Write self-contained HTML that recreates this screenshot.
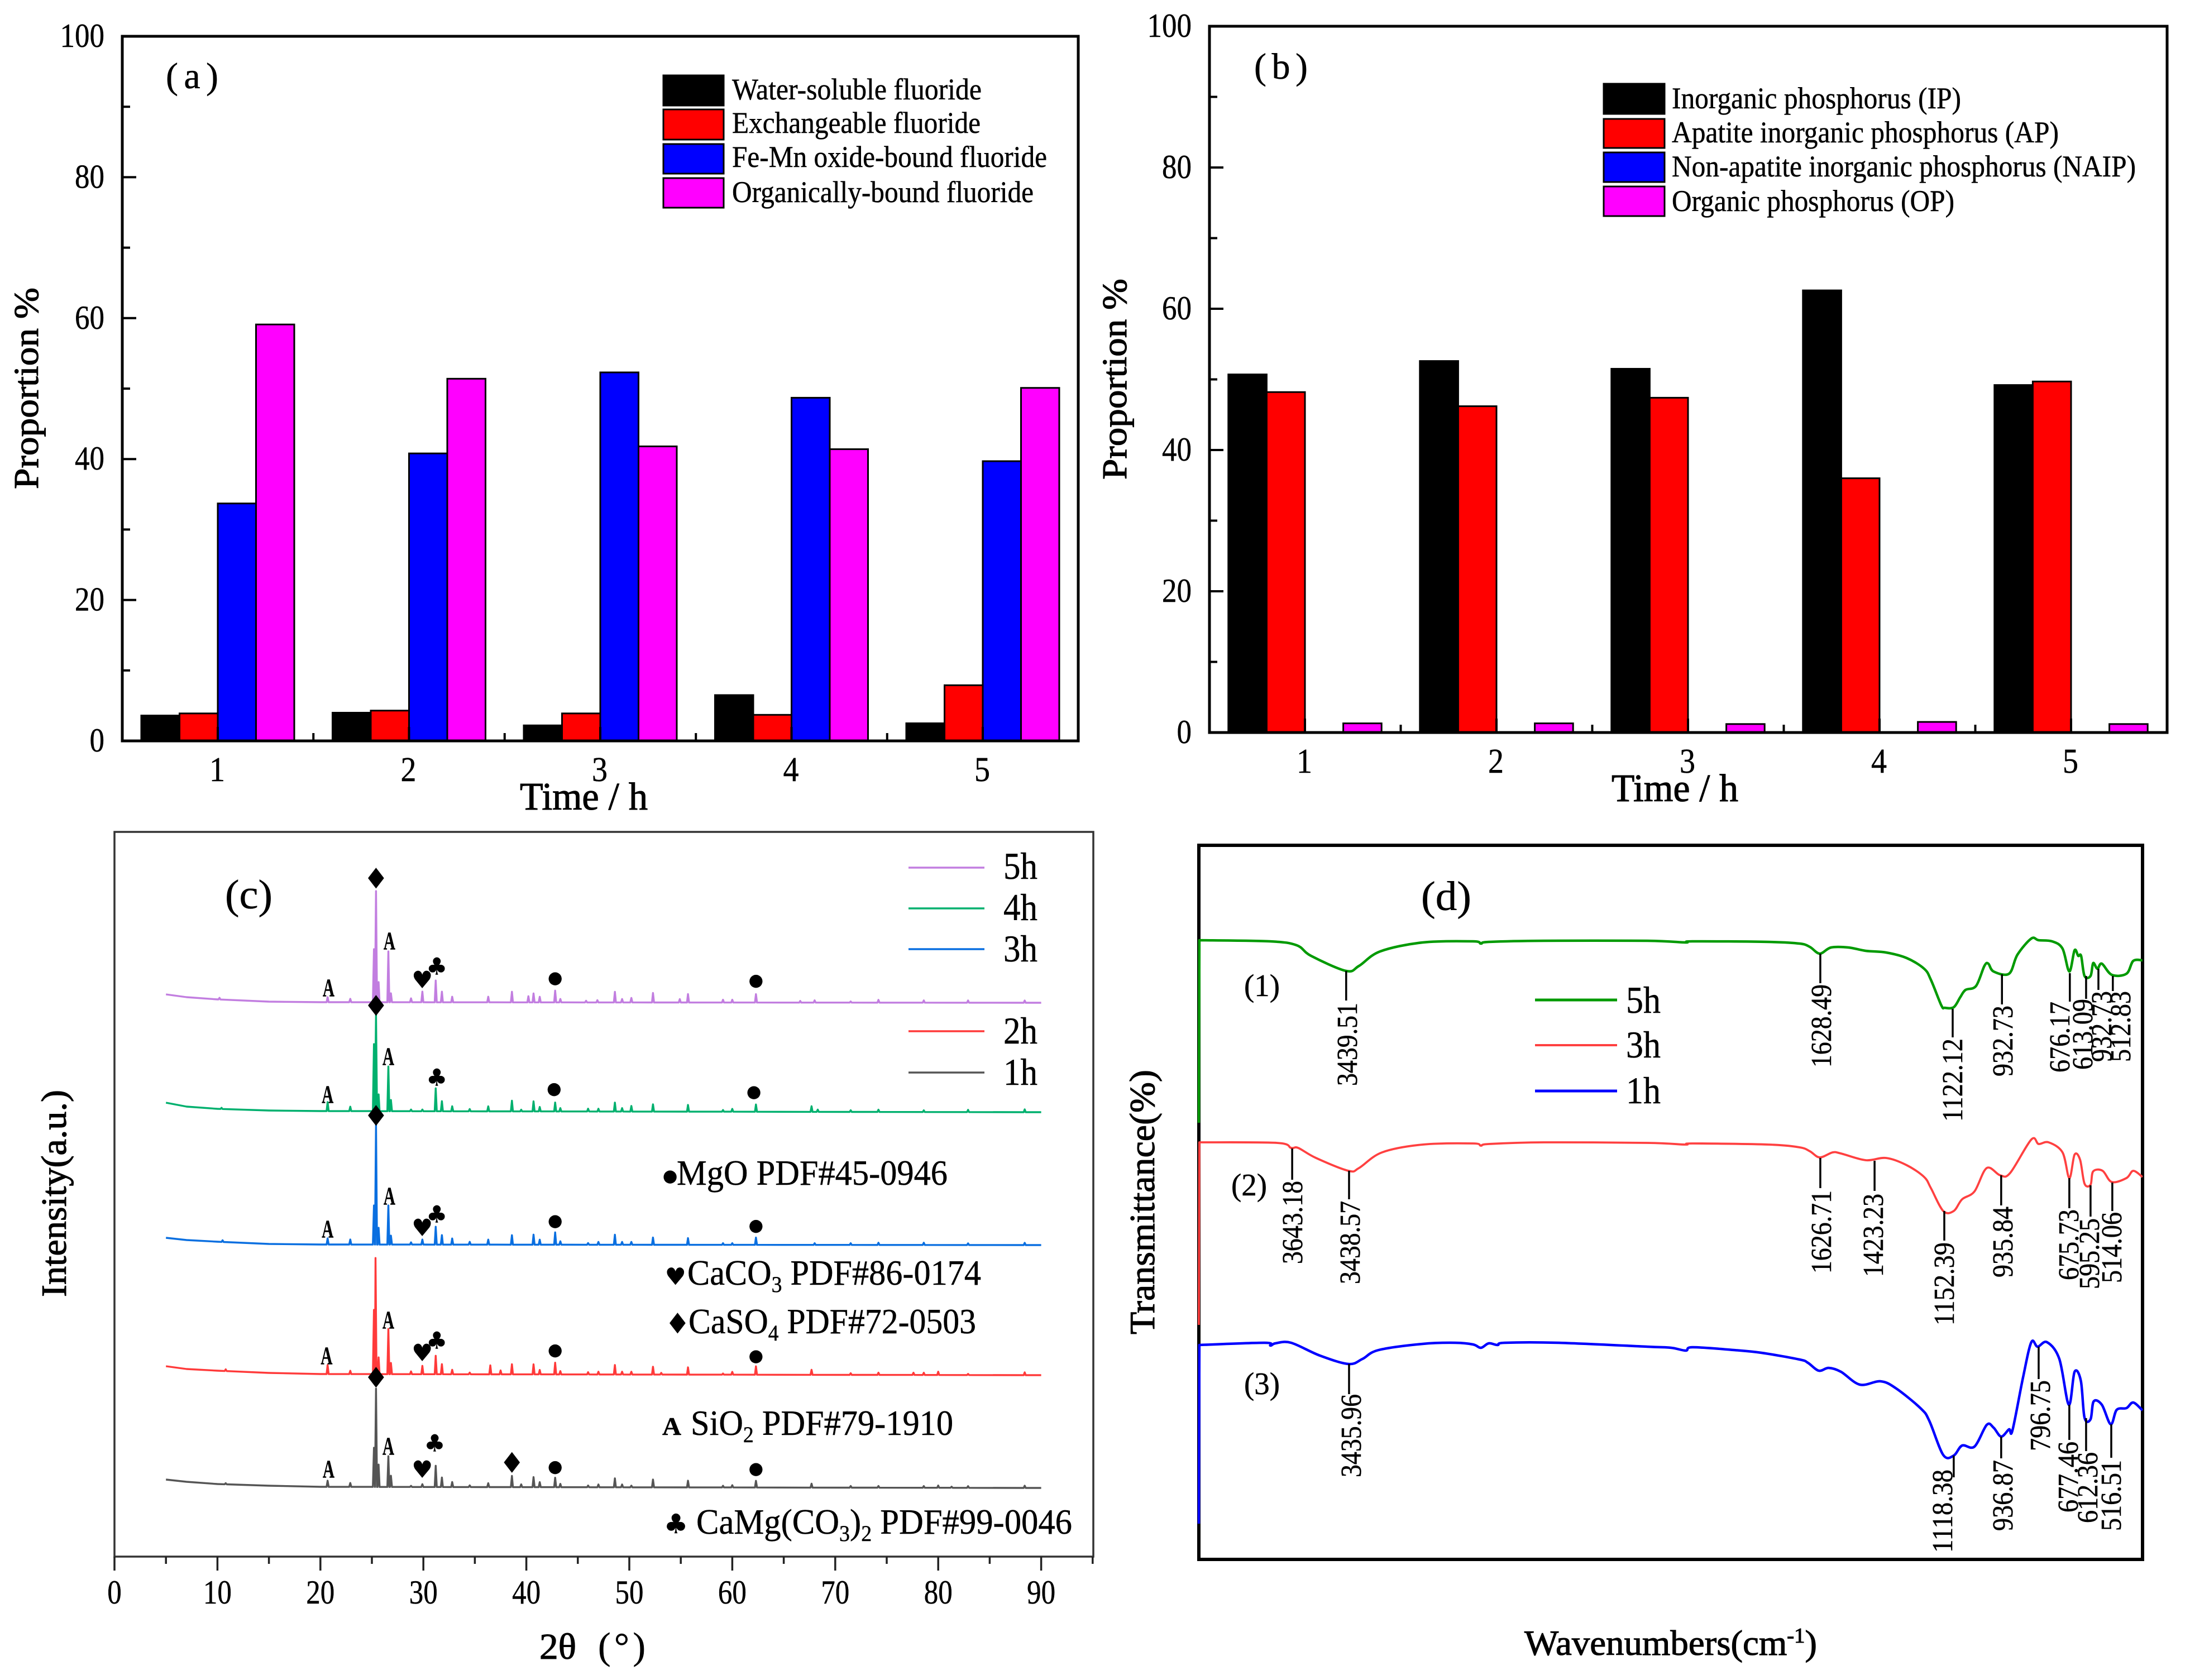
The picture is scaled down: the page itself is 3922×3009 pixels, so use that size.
<!DOCTYPE html>
<html lang="en">
<head>
<meta charset="utf-8">
<title>Fluoride and phosphorus fractions, XRD and FTIR panels</title>
<style>
html,body{margin:0;padding:0;background:#fff;}
svg{display:block;}
text{font-family:"Liberation Serif","Noto Serif CJK SC",serif;fill:#000;stroke:#000;stroke-width:.5px;}
.lg{font-size:54px;}
.tt{stroke-width:1.1px;}
.sym{font-family:"DejaVu Sans","Liberation Sans",sans-serif;}
</style>
</head>
<body>
<svg id="figure" xmlns="http://www.w3.org/2000/svg" width="3922" height="3009" viewBox="0 0 3922 3009">
<rect width="3922" height="3009" fill="#fff"/>

<g id="panel-a">
  <g id="a-bars"></g>
  <rect x="219" y="65" width="1712" height="1262" fill="none" stroke="#000" stroke-width="5"/>
  <g id="a-ticks"></g>
  <text x="297" y="158" font-size="66" textLength="94" lengthAdjust="spacing">(a)</text>
  <text class="tt" transform="translate(68,876) rotate(-90)" font-size="62" textLength="361" lengthAdjust="spacingAndGlyphs">Proportion %</text>
  <text class="tt" x="931" y="1450" font-size="70" textLength="229" lengthAdjust="spacingAndGlyphs">Time / h</text>
  <g>
    <rect x="1188" y="135" width="108" height="54" fill="#000" stroke="#000" stroke-width="3"/>
    <rect x="1188" y="196" width="108" height="54" fill="#f00" stroke="#000" stroke-width="3"/>
    <rect x="1188" y="258" width="108" height="53" fill="#00f" stroke="#000" stroke-width="3"/>
    <rect x="1188" y="319" width="108" height="53" fill="#f0f" stroke="#000" stroke-width="3"/>
    <text class="lg" x="1311" y="178" textLength="447" lengthAdjust="spacingAndGlyphs">Water-soluble fluoride</text>
    <text class="lg" x="1311" y="238" textLength="445" lengthAdjust="spacingAndGlyphs">Exchangeable fluoride</text>
    <text class="lg" x="1311" y="299" textLength="564" lengthAdjust="spacingAndGlyphs">Fe-Mn oxide-bound fluoride</text>
    <text class="lg" x="1311" y="362" textLength="540" lengthAdjust="spacingAndGlyphs">Organically-bound fluoride</text>
  </g>
</g>

<g id="panel-b">
  <g id="b-bars"></g>
  <rect x="2166" y="47" width="1715" height="1265" fill="none" stroke="#000" stroke-width="5"/>
  <g id="b-ticks"></g>
  <text x="2246" y="141" font-size="66" textLength="96" lengthAdjust="spacing">(b)</text>
  <text class="tt" transform="translate(2017,859) rotate(-90)" font-size="62" textLength="360" lengthAdjust="spacingAndGlyphs">Proportion %</text>
  <text class="tt" x="2886" y="1435" font-size="70" textLength="227" lengthAdjust="spacingAndGlyphs">Time / h</text>
  <g>
    <rect x="2872" y="150" width="109" height="54" fill="#000" stroke="#000" stroke-width="3"/>
    <rect x="2872" y="213" width="109" height="52" fill="#f00" stroke="#000" stroke-width="3"/>
    <rect x="2872" y="273" width="109" height="53" fill="#00f" stroke="#000" stroke-width="3"/>
    <rect x="2872" y="334" width="109" height="53" fill="#f0f" stroke="#000" stroke-width="3"/>
    <text class="lg" x="2994" y="194" textLength="518" lengthAdjust="spacingAndGlyphs">Inorganic phosphorus (IP)</text>
    <text class="lg" x="2994" y="255" textLength="693" lengthAdjust="spacingAndGlyphs">Apatite inorganic phosphorus (AP)</text>
    <text class="lg" x="2994" y="316" textLength="831" lengthAdjust="spacingAndGlyphs">Non-apatite inorganic phosphorus (NAIP)</text>
    <text class="lg" x="2994" y="378" textLength="506" lengthAdjust="spacingAndGlyphs">Organic phosphorus (OP)</text>
  </g>
</g>

<g id="panel-c">
  <rect x="205" y="1490" width="1753" height="1298" fill="none" stroke="#333" stroke-width="3.5"/>
  <g id="c-ticks"></g>
  <g id="c-series"></g>
  <g id="c-markers"></g>
  <text x="403" y="1627" font-size="74" textLength="85" lengthAdjust="spacingAndGlyphs">(c)</text>
  <text class="tt" transform="translate(118,2323) rotate(-90)" font-size="64" textLength="371" lengthAdjust="spacingAndGlyphs">Intensity(a.u.)</text>
  <text class="tt" x="966" y="2971" font-size="66" textLength="66" lengthAdjust="spacingAndGlyphs">2θ</text>
  <text x="1071" y="2971" font-size="68" textLength="85" lengthAdjust="spacing">(°)</text>
  <g>
    <line x1="1627" x2="1763" y1="1554" y2="1554" stroke="#c27ee0" stroke-width="3.5"/>
    <line x1="1627" x2="1763" y1="1627" y2="1627" stroke="#00b06e" stroke-width="3.5"/>
    <line x1="1627" x2="1763" y1="1700" y2="1700" stroke="#0a6fe0" stroke-width="3.5"/>
    <line x1="1627" x2="1763" y1="1847" y2="1847" stroke="#ff3a3a" stroke-width="3.5"/>
    <line x1="1627" x2="1763" y1="1921" y2="1921" stroke="#555" stroke-width="3.5"/>
    <text x="1797" y="1574" font-size="68" textLength="61" lengthAdjust="spacingAndGlyphs">5h</text>
    <text x="1797" y="1648" font-size="68" textLength="61" lengthAdjust="spacingAndGlyphs">4h</text>
    <text x="1797" y="1722" font-size="68" textLength="61" lengthAdjust="spacingAndGlyphs">3h</text>
    <text x="1797" y="1869" font-size="68" textLength="61" lengthAdjust="spacingAndGlyphs">2h</text>
    <text x="1797" y="1943" font-size="68" textLength="61" lengthAdjust="spacingAndGlyphs">1h</text>
  </g>
  <g>
    <text class="sym" x="1187" y="2116" font-size="30">●</text>
    <text x="1212" y="2122" font-size="64" textLength="485" lengthAdjust="spacingAndGlyphs">MgO PDF#45-0946</text>
    <text class="sym" x="1191" y="2301" font-size="42">♥</text>
    <text x="1231" y="2301" font-size="64" textLength="526" lengthAdjust="spacingAndGlyphs">CaCO<tspan dy="13" font-size="40">3</tspan><tspan dy="-13"> PDF#86-0174</tspan></text>
    <text class="sym" x="1191" y="2388" font-size="50">♦</text>
    <text x="1233" y="2388" font-size="64" textLength="515" lengthAdjust="spacingAndGlyphs">CaSO<tspan dy="13" font-size="40">4</tspan><tspan dy="-13"> PDF#72-0503</tspan></text>
    <text x="1186" y="2570" font-size="46" font-weight="bold" textLength="34" lengthAdjust="spacingAndGlyphs">A</text>
    <text x="1237" y="2570" font-size="64" textLength="470" lengthAdjust="spacingAndGlyphs">SiO<tspan dy="13" font-size="40">2</tspan><tspan dy="-13"> PDF#79-1910</tspan></text>
    <text class="sym" x="1189" y="2746" font-size="48">♣</text>
    <text x="1247" y="2747" font-size="64" textLength="673" lengthAdjust="spacingAndGlyphs">CaMg(CO<tspan dy="13" font-size="40">3</tspan><tspan dy="-13">)</tspan><tspan dy="13" font-size="40">2</tspan><tspan dy="-13"> PDF#99-0046</tspan></text>
  </g>
</g>

<g id="panel-d">
  <rect x="2147" y="1514" width="1690" height="1279" fill="none" stroke="#000" stroke-width="6"/>
  <g id="d-series"></g>
  <g id="d-peaks"></g>
  <text x="2545" y="1630" font-size="74" textLength="90" lengthAdjust="spacingAndGlyphs">(d)</text>
  <text x="2228" y="1784" font-size="56" textLength="64" lengthAdjust="spacingAndGlyphs">(1)</text>
  <text x="2205" y="2141" font-size="56" textLength="64" lengthAdjust="spacingAndGlyphs">(2)</text>
  <text x="2228" y="2497" font-size="56" textLength="64" lengthAdjust="spacingAndGlyphs">(3)</text>
  <text class="tt" transform="translate(2067,2390) rotate(-90)" font-size="64" textLength="474" lengthAdjust="spacingAndGlyphs">Transmittance(%)</text>
  <text class="tt" x="2730" y="2964" font-size="64" textLength="524" lengthAdjust="spacingAndGlyphs">Wavenumbers(cm<tspan dy="-22" font-size="38">-1</tspan><tspan dy="22">)</tspan></text>
  <g>
    <line x1="2749" x2="2896" y1="1791" y2="1791" stroke="#009a00" stroke-width="5"/>
    <line x1="2749" x2="2896" y1="1872" y2="1872" stroke="#ff4040" stroke-width="4"/>
    <line x1="2749" x2="2896" y1="1954" y2="1954" stroke="#0000ff" stroke-width="5"/>
    <text x="2912" y="1814" font-size="68" textLength="62" lengthAdjust="spacingAndGlyphs">5h</text>
    <text x="2912" y="1894" font-size="68" textLength="62" lengthAdjust="spacingAndGlyphs">3h</text>
    <text x="2912" y="1976" font-size="68" textLength="62" lengthAdjust="spacingAndGlyphs">1h</text>
  </g>
</g>
</svg>

<script>
// ---------- Panel (a) data ----------
const categoriesA = [1, 2, 3, 4, 5];
const waterSoluble = [3.6, 4.0, 2.2, 6.5, 2.5];
const exchangeable = [3.9, 4.3, 3.9, 3.7, 7.9];
const feMnOxide = [33.7, 40.8, 52.3, 48.7, 39.7];
const organicBound = [59.1, 51.4, 41.8, 41.4, 50.1];
// ---------- Panel (b) data ----------
const categoriesB = [1, 2, 3, 4, 5];
const inorganicP = [50.7, 52.6, 51.5, 62.6, 49.2];
const apatiteP = [48.2, 46.2, 47.4, 36.0, 49.7];
const nonApatiteP = [0, 0, 0, 0, 0];
const organicP = [1.3, 1.3, 1.2, 1.5, 1.2];
const yTickLabels = [0, 20, 40, 60, 80, 100];
const yMinorTicks = [10, 30, 50, 70, 90];
// ---------- Panel (c) data: [2-theta, intensity above baseline] ----------
const xTicksC = [0, 10, 20, 30, 40, 50, 60, 70, 80, 90];
const xMinorTicksC = [5, 15, 25, 35, 45, 55, 65, 75, 85, 95];
const offset5h = 993;
const offset4h = 798;
const offset3h = 559;
const offset2h = 327;
const offset1h = 125;
const background5h = [[5,14],[7,9],[10,5],[15,1],[20,0],[90,-1]];
const background4h = [[5,15],[7,8],[10,4],[15,1],[20,0],[90,-2]];
const background3h = [[5,12],[7,8],[10,5],[15,1],[20,0],[90,-1]];
const background2h = [[5,14],[7,9],[10,6],[15,2],[20,0],[90,-2]];
const background1h = [[5,13],[7,9],[10,5],[15,2],[20,0],[90,-2]];
const peaks5h = [[10.2,3],[20.7,9],[22.9,6],[25.2,95],[25.4,199],[25.65,36],[26.6,91],[26.85,16],[28.8,7],[29.9,19],[31.2,39],[31.8,19],[32.8,10],[36.3,10],[38.6,19],[40.2,11],[40.7,16],[41.3,10],[42.8,21],[43.3,6],[45.8,3],[46.9,4],[48.6,19],[49.3,6],[50.2,8],[52.3,17],[54.9,6],[55.7,15],[59.1,5],[60,5],[62.3,15],[66.6,3],[68,4],[71.5,2],[74.2,5],[78.6,4],[82.9,4],[88.4,4]];
const peaks4h = [[10.4,2],[20.7,16],[22.9,8],[25.2,120],[25.4,173],[25.65,30],[26.6,80],[26.85,20],[28.8,3],[29.9,3],[31.2,41],[31.8,18],[32.8,9],[34.5,4],[36.3,9],[38.6,19],[39.5,3],[40.7,18],[41.3,8],[42.8,16],[43.3,6],[46,5],[47,5],[48.6,16],[49.3,6],[50.2,10],[52.3,13],[55.7,12],[59.1,3],[60,5],[62.3,13],[67.7,10],[68.3,4],[71.5,3],[74.2,4],[78.6,3],[82.9,4],[88.4,5]];
const peaks3h = [[10.5,3],[20.7,11],[22.9,9],[25.2,70],[25.4,216],[25.65,30],[26.6,70],[26.85,16],[28.8,4],[29.9,9],[31.2,32],[31.8,17],[32.8,11],[34.5,5],[36.3,9],[38.6,17],[40.7,18],[41.3,9],[42.8,22],[43.3,6],[46,3],[47,5],[48.6,18],[49.3,5],[50.2,5],[52.3,13],[55.7,12],[59.1,3],[60,3],[62.3,13],[68,3],[71.5,3],[74.2,4],[78.6,4],[82.9,3],[88.4,4]];
const peaks2h = [[10.8,3],[20.7,16],[22.9,6],[25.2,115],[25.35,208],[25.65,30],[26.6,81],[26.85,20],[28.8,5],[29.9,15],[31.2,33],[31.8,18],[32.8,8],[34.5,3],[36.5,16],[37.5,7],[38.6,18],[40.7,18],[41.3,8],[42.8,21],[43.3,6],[46,4],[47,5],[48.6,17],[49.3,5],[50.2,5],[52.3,14],[53.1,3],[55.7,13],[59.1,2],[60,5],[62.3,15],[67.7,9],[71.5,3],[74.2,4],[77.6,4],[78.6,4],[80,6],[82.9,2],[88.4,5]];
const peaks1h = [[10.8,2],[20.7,11],[22.9,7],[25.2,70],[25.4,176],[25.65,40],[26.6,55],[26.85,20],[28.8,2],[29.9,5],[31.2,38],[31.8,17],[32.8,9],[34.5,3],[36.3,7],[38.6,20],[39.5,5],[40.7,18],[41.3,9],[42.8,17],[43.3,6],[46,3],[47,5],[48.6,16],[49.3,5],[50.2,3],[52.3,14],[55.7,12],[59.1,3],[60,4],[62.3,12],[67.7,7],[71.5,3],[74.2,3],[78.6,3],[80,4],[81.3,2],[82.9,3],[88.4,4]];
const markers5h = [['♦',25.4,222],['A',20.8,27],['A',26.7,111],['♥',29.9,41],['♣',31.3,65],['●',42.8,45],['●',62.3,41]];
const markers4h = [['♦',25.4,189],['A',20.7,31],['A',26.6,99],['♣',31.3,61],['●',42.7,42],['●',62.1,37]];
const markers3h = [['♦',25.4,231],['A',20.7,29],['A',26.7,88],['♥',29.9,31],['♣',31.3,55],['●',42.8,44],['●',62.3,36]];
const markers2h = [['A',20.6,34],['A',26.6,98],['♥',29.9,39],['♣',31.3,61],['●',42.8,45],['●',62.3,35]];
const markers1h = [['♦',25.4,196],['A',20.8,33],['A',26.6,74],['♥',29.9,32],['♣',31.1,79],['♦',38.6,44],['●',42.8,38],['●',62.3,35]];
// ---------- Panel (d) data: [wavenumber, transmittance a.u.] ----------
const curve5h = [[4000,782],[3998,1109],[3729,1107],[3627,1100],[3572,1081],[3438,1054],[3389,1063],[3308,1089],[3146,1105],[2954,1107],[2924,1103],[2894,1106],[2683,1108],[2289,1108],[2144,1105],[2117,1107],[1827,1106],[1708,1103],[1669,1097],[1631,1085],[1588,1096],[1522,1096],[1456,1090],[1378,1087],[1299,1077],[1233,1058],[1207,1038],[1167,992],[1154,988],[1120,989],[1095,1007],[1075,1020],[1035,1027],[1003,1063],[988,1067],[968,1053],[909,1049],[877,1083],[824,1112],[796,1109],[745,1107],[705,1094],[679,1053],[659,1091],[645,1081],[634,1081],[621,1045],[598,1045],[588,1068],[572,1058],[555,1067],[517,1047],[461,1049],[435,1072],[400,1073]];
const curve3h = [[4000,420],[3998,747],[3702,746],[3648,737],[3621,737],[3553,719],[3429,696],[3389,701],[3301,729],[3146,743],[2954,745],[2924,741],[2894,744],[2683,747],[2289,746],[2144,743],[2117,745],[1827,743],[1708,738],[1669,731],[1631,720],[1582,729],[1550,727],[1456,715],[1378,719],[1299,706],[1233,685],[1207,665],[1160,624],[1120,624],[1088,645],[1041,659],[994,701],[943,688],[905,692],[824,752],[796,744],[758,747],[705,729],[679,683],[659,725],[638,716],[621,673],[598,671],[588,695],[552,696],[517,676],[461,683],[435,696],[400,685]];
const curve1h = [[4000,64],[3998,384],[3749,388],[3727,383],[3708,387],[3648,388],[3538,365],[3429,350],[3376,359],[3314,375],[3146,386],[3022,388],[2954,385],[2924,379],[2894,387],[2860,384],[2833,388],[2628,388],[2289,381],[2198,379],[2142,374],[2117,380],[1959,375],[1853,370],[1708,358],[1676,352],[1635,338],[1597,343],[1550,336],[1478,313],[1399,319],[1339,306],[1245,270],[1213,248],[1160,187],[1120,186],[1088,204],[1041,202],[994,241],[968,236],[939,220],[909,233],[896,231],[856,325],[824,389],[800,381],[764,389],[717,359],[681,277],[659,336],[635,320],[621,254],[598,251],[586,283],[555,277],[521,242],[498,268],[461,271],[435,281],[400,267]];
// [printed label, wavenumber, line top, line bottom, label top] in a.u.
const peaksCurve5h = [['3439.51',3438,1054,1001,997],['1628.49',1629,1085,1032,1030],['1122.12',1124,986,935,933],['932.73',936,1048,994,992],['676.17',677,1050,999,999],['613.09',615,1045,1004,1004],['932.73',568,1058,1020,1018],['512.83',513,1045,1018,1018]];
const peaksCurve3h = [['3643.18',3644,736,680,678],['3438.57',3427,696,645,642],['1626.71',1629,719,665,661],['1423.23',1422,714,660,655],['1152.39',1156,624,571,568],['935.84',939,688,634,632],['675.73',679,683,629,627],['595.25',598,670,614,611],['514.06',515,675,624,622]];
const peaksCurve1h = [['3435.96',3427,350,296,296],['1118.38',1120,186,147,161],['936.87',939,220,181,178],['796.75',796,381,323,321],['677.46',679,277,214,211],['612.36',615,253,194,192],['516.51',519,242,182,178]];
// label shift from its leader line, in the same order as the lists above
const labelShift5h = [19,19,17,19,-1,11,23,31];
const labelShift3h = [18,19,19,15,17,20,16,15,16];
const labelShift1h = [21,-3,20,20,15,20,17];

const NS = 'http://www.w3.org/2000/svg';
function mk(parent, tag, attrs, name) {
  const el = document.createElementNS(NS, tag);
  for (const k in attrs) el.setAttribute(k, attrs[k]);
  
  
  parent.appendChild(el);
  return el;
}
function $(id) { return document.getElementById(id); }

// ---------- Bar panels ----------
function drawBars(cfg) {
  const colours = ['#000', '#f00', '#00f', '#f0f'];
  const w = cfg.step * 0.2;
  cfg.series.forEach((vals, s) => {
    vals.forEach((v, i) => {
      if (v <= 0) return;
      const x = cfg.xScale(cfg.cats[i]) - 2 * w + s * w;
      mk(cfg.bars, 'rect', {
        x: x, y: cfg.yScale(v), width: w, height: cfg.yScale(0) - cfg.yScale(v),
        fill: colours[s], stroke: '#000', 'stroke-width': 3
      }, cfg.prefix + '-bar-' + cfg.names[s] + '-' + cfg.cats[i]);
    });
  });
  const left = cfg.left, bottom = cfg.yScale(0);
  yTickLabels.forEach(v => {
    mk(cfg.ticks, 'line', { x1: left, x2: left + 25, y1: cfg.yScale(v), y2: cfg.yScale(v), stroke: '#000', 'stroke-width': 4 }, cfg.prefix + '-y-tick-' + v);
    const t = mk(cfg.ticks, 'text', { x: left - 32, y: cfg.yScale(v) + 19, 'text-anchor': 'end', 'font-size': 60, textLength: 26.5 * String(v).length, lengthAdjust: 'spacingAndGlyphs' }, cfg.prefix + '-y-tick-label-' + v);
    t.textContent = v;
  });
  yMinorTicks.forEach(v => {
    mk(cfg.ticks, 'line', { x1: left, x2: left + 14, y1: cfg.yScale(v), y2: cfg.yScale(v), stroke: '#000', 'stroke-width': 4 }, cfg.prefix + '-y-minor-tick-' + v);
  });
  cfg.cats.forEach((c, i) => {
    const x = cfg.xScale(c);
    mk(cfg.ticks, 'line', { x1: x, x2: x, y1: bottom, y2: bottom - 25, stroke: '#000', 'stroke-width': 4 }, cfg.prefix + '-x-tick-' + c);
    const t = mk(cfg.ticks, 'text', { x: x - 1, y: cfg.labelY, 'text-anchor': 'middle', 'font-size': 62, textLength: 28, lengthAdjust: 'spacingAndGlyphs' }, cfg.prefix + '-x-tick-label-' + c);
    t.textContent = c;
    if (i < cfg.cats.length - 1) {
      const m = cfg.xScale(c + 0.5);
      mk(cfg.ticks, 'line', { x1: m, x2: m, y1: bottom, y2: bottom - 14, stroke: '#000', 'stroke-width': 4 }, cfg.prefix + '-x-minor-tick-' + c);
    }
  });
}
drawBars({
  prefix: 'panel-a', bars: $('a-bars'), ticks: $('a-ticks'), cats: categoriesA, left: 219, labelY: 1399, step: 342.5,
  series: [waterSoluble, exchangeable, feMnOxide, organicBound],
  names: ['water-soluble', 'exchangeable', 'fe-mn-oxide', 'organically-bound'],
  xScale: c => 390 + (c - 1) * 342.5,
  yScale: v => 1327 - v * 12.62
});
drawBars({
  prefix: 'panel-b', bars: $('b-bars'), ticks: $('b-ticks'), cats: categoriesB, left: 2166, labelY: 1384, step: 343,
  series: [inorganicP, apatiteP, nonApatiteP, organicP],
  names: ['ip', 'ap', 'naip', 'op'],
  xScale: c => 2337 + (c - 1) * 343,
  yScale: v => 1312 - v * 12.65
});

// ---------- Panel (c) ----------
const xC = t => 205 + t * 18.44;
const yC = v => 2788 - v;
xTicksC.forEach(t => {
  mk($('c-ticks'), 'line', { x1: xC(t), x2: xC(t), y1: 2788, y2: 2813, stroke: '#222', 'stroke-width': 3.5 }, 'panel-c-x-tick-' + t);
  const l = mk($('c-ticks'), 'text', { x: xC(t), y: 2872, 'text-anchor': 'middle', 'font-size': 60, textLength: 25.5 * String(t).length, lengthAdjust: 'spacingAndGlyphs' }, 'panel-c-x-tick-label-' + t);
  l.textContent = t;
});
xMinorTicksC.forEach(t => {
  mk($('c-ticks'), 'line', { x1: xC(t), x2: xC(t), y1: 2788, y2: 2801, stroke: '#222', 'stroke-width': 3.5 }, 'panel-c-x-minor-tick-' + t);
});
function bgAt(bg, t) {
  for (let i = 0; i < bg.length - 1; i++) {
    if (t <= bg[i + 1][0]) {
      const f = (t - bg[i][0]) / (bg[i + 1][0] - bg[i][0]);
      return bg[i][1] + f * (bg[i + 1][1] - bg[i][1]);
    }
  }
  return bg[bg.length - 1][1];
}
const markerSizes = { 'A': 46, '●': 30, '♦': 50, '♥': 42, '♣': 42 };
function drawXrd(name, offset, bg, peaks, markers, colour) {
  const w = 0.1;
  const pts = [];
  bg.forEach(b => pts.push([b[0], b[1]]));
  peaks.forEach(p => {
    pts.push([p[0] - w, bgAt(bg, p[0] - w)]);
    pts.push([p[0], bgAt(bg, p[0]) + p[1]]);
    pts.push([p[0] + w, bgAt(bg, p[0] + w)]);
  });
  pts.sort((a, b) => a[0] - b[0]);
  const d = pts.map(p => xC(p[0]).toFixed(1) + ',' + yC(offset + p[1]).toFixed(1)).join(' ');
  mk($('c-series'), 'polyline', { points: d, fill: 'none', stroke: colour, 'stroke-width': 3.4, 'stroke-linejoin': 'round' }, 'xrd-line-' + name);
  markers.forEach((m, i) => {
    const isA = m[0] === 'A';
    const size = markerSizes[m[0]];
    const attrs = {
      x: xC(m[1]), y: yC(offset + bgAt(bg, m[1]) + m[2]) + size * 0.36,
      'text-anchor': 'middle', 'font-size': size
    };
    if (isA) {
      attrs['font-weight'] = 'bold';
      attrs['textLength'] = 21;
      attrs['lengthAdjust'] = 'spacingAndGlyphs';
    } else {
      attrs['class'] = 'sym';
    }
    const t = mk($('c-markers'), 'text', attrs, 'phase-marker-' + name + '-' + i);
    t.textContent = m[0];
  });
}
drawXrd('5h', offset5h, background5h, peaks5h, markers5h, '#c27ee0');
drawXrd('4h', offset4h, background4h, peaks4h, markers4h, '#00b06e');
drawXrd('3h', offset3h, background3h, peaks3h, markers3h, '#0a6fe0');
drawXrd('2h', offset2h, background2h, peaks2h, markers2h, '#ff3a3a');
drawXrd('1h', offset1h, background1h, peaks1h, markers1h, '#555555');

// ---------- Panel (d) ----------
const xD = wn => 2147 + (4000 - wn) * 0.4694;
const yD = v => 2793 - v;
function smoothPath(curve) {
  const p = curve.map(c => [xD(c[0]), yD(c[1])]);
  let d = 'M' + p[0][0].toFixed(1) + ' ' + p[0][1].toFixed(1) + ' L' + p[1][0].toFixed(1) + ' ' + p[1][1].toFixed(1);
  for (let i = 1; i < p.length - 1; i++) {
    const a = i > 1 ? p[i - 1] : p[i], b = p[i], c = p[i + 1], e = p[i + 2] || c;
    d += ' C' + (b[0] + (c[0] - a[0]) / 6).toFixed(1) + ' ' + (b[1] + (c[1] - a[1]) / 6).toFixed(1) +
         ' ' + (c[0] - (e[0] - b[0]) / 6).toFixed(1) + ' ' + (c[1] - (e[1] - b[1]) / 6).toFixed(1) +
         ' ' + c[0].toFixed(1) + ' ' + c[1].toFixed(1);
  }
  return d;
}
function drawFtir(name, curve, labels, shifts, colour, width) {
  mk($('d-series'), 'path', { d: smoothPath(curve), fill: 'none', stroke: colour, 'stroke-width': width, 'stroke-linejoin': 'round' }, 'ftir-curve-' + name);
  labels.forEach((p, i) => {
    const x = xD(p[1]);
    mk($('d-peaks'), 'line', { x1: x, x2: x, y1: yD(p[2]), y2: yD(p[3]), stroke: '#000', 'stroke-width': 3.5 }, 'peak-line-' + name + '-' + i);
    const t = mk($('d-peaks'), 'text', {
      transform: 'translate(' + (x + shifts[i]).toFixed(1) + ',' + yD(p[4]) + ') rotate(-90)',
      'text-anchor': 'end', 'font-size': 52,
      textLength: p[0].length === 7 ? 149 : 127, lengthAdjust: 'spacingAndGlyphs'
    }, 'peak-label-' + name + '-' + i);
    t.textContent = p[0];
  });
}
drawFtir('5h', curve5h, peaksCurve5h, labelShift5h, '#009a00', 4.5);
drawFtir('3h', curve3h, peaksCurve3h, labelShift3h, '#ff4040', 3.8);
drawFtir('1h', curve1h, peaksCurve1h, labelShift1h, '#0000ff', 4.5);
</script>
</body>
</html>
